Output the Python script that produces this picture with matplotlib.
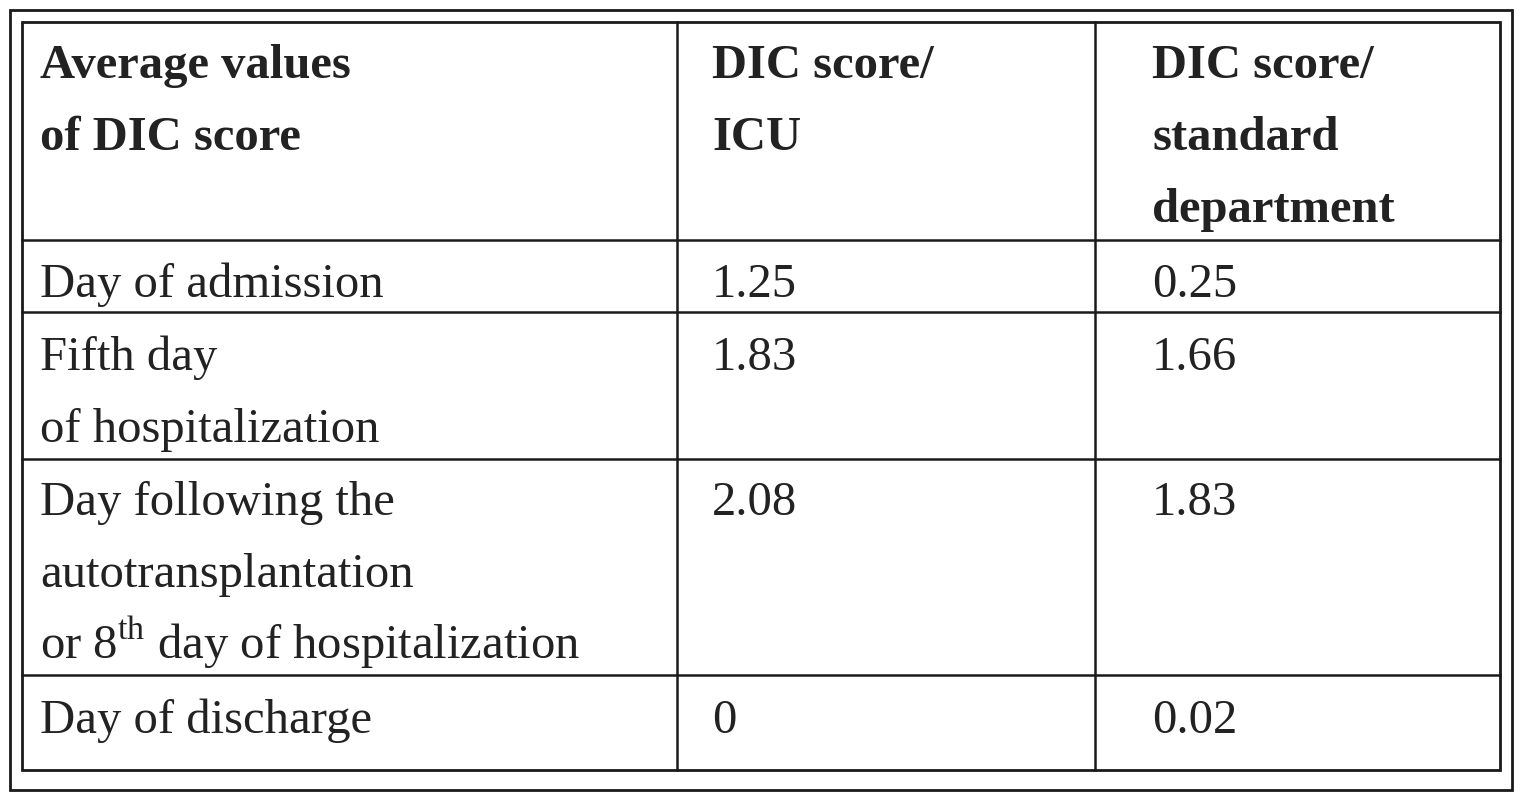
import matplotlib
matplotlib.use("Agg")
import matplotlib.pyplot as plt
from matplotlib.lines import Line2D
from matplotlib.patches import Rectangle

plt.rcParams['mathtext.fontset'] = 'custom'
plt.rcParams['mathtext.rm'] = 'Liberation Serif'

headers = [["Average values", "of DIC score"], ["DIC score/", "ICU"], ["DIC score/", "standard", "department"]]
row_labels = [["Day of admission"], ["Fifth day", "of hospitalization"],
              ["Day following the", "autotransplantation", r"or 8$^{\mathrm{th}}$ day of hospitalization"],
              ["Day of discharge"]]
icu = ["1.25", "1.83", "2.08", "0"]
standard = ["0.25", "1.66", "1.83", "0.02"]

W, H = 1521, 800
fig = plt.figure(figsize=(W/100, H/100), dpi=100)
ax = fig.add_axes([0, 0, 1, 1])
ax.set_xlim(0, W); ax.set_ylim(H, 0); ax.axis('off')
col = '#1a1a1a'
ax.add_patch(Rectangle((10, 10), 1502, 780, fill=False, ec=col, lw=2))
ax.add_patch(Rectangle((22, 22), 1478, 748, fill=False, ec=col, lw=2))
for x in (677, 1095):
    ax.add_line(Line2D([x, x], [22, 770], color=col, lw=1.8))
for y in (240, 312, 459, 675):
    ax.add_line(Line2D([22, 1500], [y, y], color=col, lw=1.8))

fs = 35
xs = [40, 712, 1152]
step = 72
for i, h in enumerate(headers):
    for j, t in enumerate(h):
        ax.text(xs[i], 78 + j*step, t, fontsize=fs, fontweight='bold', family='Liberation Serif',
                color='#222', va='baseline')
row_top = [297, 370, 515, 733]
for r in range(4):
    for j, t in enumerate(row_labels[r]):
        ax.text(xs[0], row_top[r] + j*step, t, fontsize=fs, family='Liberation Serif', color='#222', va='baseline')
    ax.text(xs[1], row_top[r], icu[r], fontsize=fs, family='Liberation Serif', color='#222', va='baseline')
    ax.text(xs[2], row_top[r], standard[r], fontsize=fs, family='Liberation Serif', color='#222', va='baseline')
fig.savefig('out.png', dpi=100, facecolor='white')
